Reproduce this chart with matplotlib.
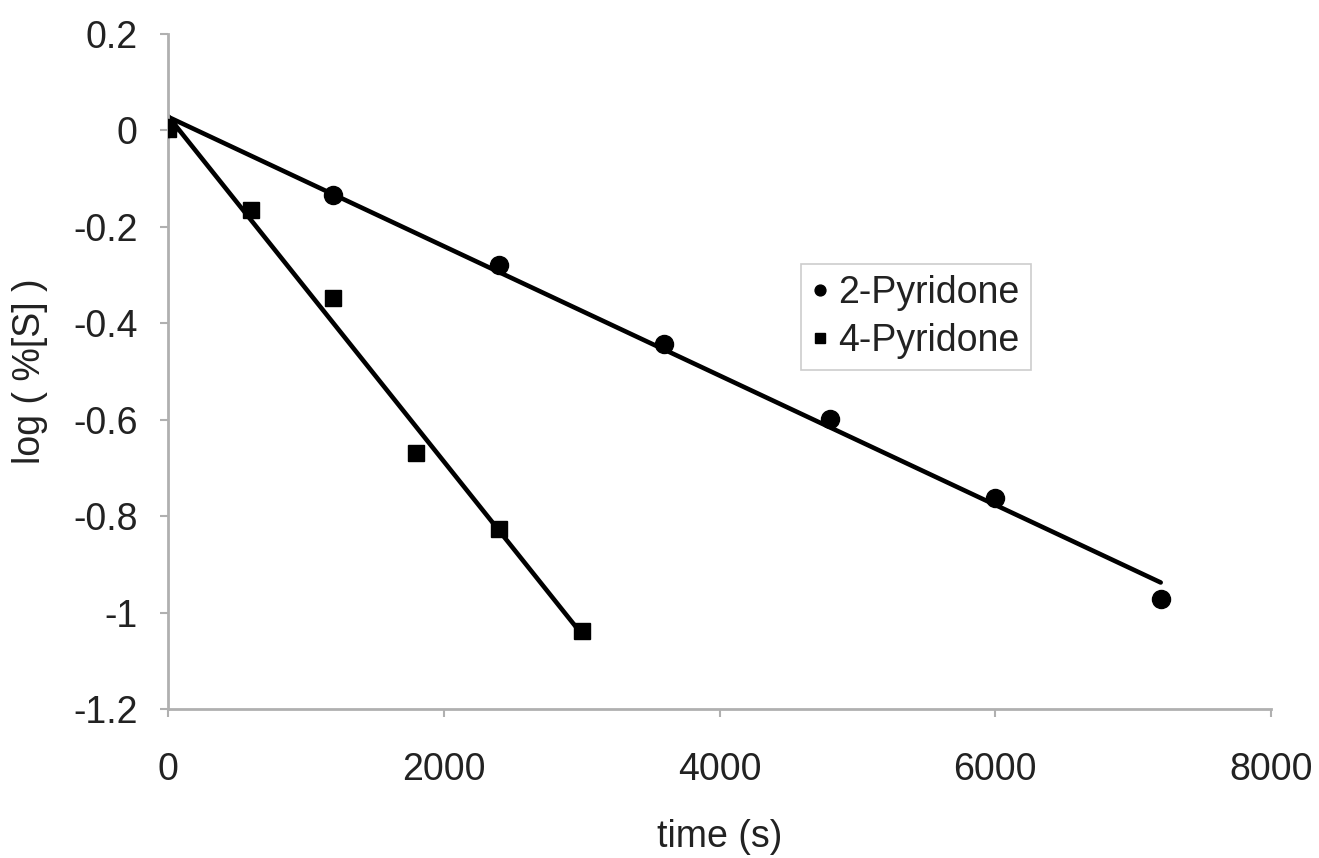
import numpy as np
import matplotlib
matplotlib.use('Agg')
import matplotlib.pyplot as plt

plt.rcParams['font.family'] = ['Liberation Sans', 'DejaVu Sans']

# 2-Pyridone data
t2 = [0, 1200, 2400, 3600, 4800, 6000, 7200]
y2 = [0.005, -0.133, -0.28, -0.443, -0.598, -0.762, -0.972]

# 4-Pyridone data
t4 = [0, 600, 1200, 1800, 2400, 3000]
y4 = [0.004, -0.166, -0.347, -0.669, -0.827, -1.039]

xticks = [0, 2000, 4000, 6000, 8000]
yticks = [-1.2, -1, -0.8, -0.6, -0.4, -0.2, 0, 0.2]
ytick_labels = ['-1.2', '-1', '-0.8', '-0.6', '-0.4', '-0.2', '0', '0.2']

fs = 27
W, H = 1319, 858
fig = plt.figure(figsize=(W / 100, H / 100), dpi=100)
ax = fig.add_axes([168 / W, 1 - 709 / H, (1271 - 168) / W, (709 - 34) / H])

# linear trendlines
for t, y in ((t2, y2), (t4, y4)):
    k, b = np.polyfit(t, y, 1)
    tt = np.array([t[0], t[-1]])
    ax.plot(tt, k * tt + b, color='black', lw=3.3, solid_capstyle='round', zorder=2)

ax.plot(t2, y2, 'o', color='black', ms=13, ls='none', label='2-Pyridone', zorder=3)
ax.plot(t4, y4, 's', color='black', ms=12, ls='none', label='4-Pyridone', zorder=3)

ax.set_xlim(0, 8000)
ax.set_ylim(-1.2, 0.2)
ax.set_xticks(xticks)
ax.set_yticks(yticks)
ax.set_yticklabels(ytick_labels)

for s in ['top', 'right']:
    ax.spines[s].set_visible(False)
for s in ['left', 'bottom']:
    ax.spines[s].set_color('#b0b0b0')
    ax.spines[s].set_linewidth(2)
ax.tick_params(colors='#b0b0b0', labelcolor='#222222', labelsize=fs, width=1.5, length=6)
ax.tick_params(axis='y', pad=16)
ax.tick_params(axis='x', pad=25)

ax.set_xlabel('time (s)', fontsize=fs, color='#222222', labelpad=22)
ax.set_ylabel('log ( %[S] )', fontsize=fs, color='#222222', labelpad=18)

leg = ax.legend(loc='center', bbox_to_anchor=((916 - 168) / 1103, (709 - 317) / 675),
                fontsize=fs, frameon=True, fancybox=False, handlelength=0.4,
                handletextpad=0.3, markerscale=0.6, borderpad=0.3, labelspacing=0.3)
leg.get_frame().set_edgecolor('#c0c0c0')
leg.get_frame().set_linewidth(1.2)
for txt in leg.get_texts():
    txt.set_color('#222222')

fig.savefig('out.png', dpi=100)
